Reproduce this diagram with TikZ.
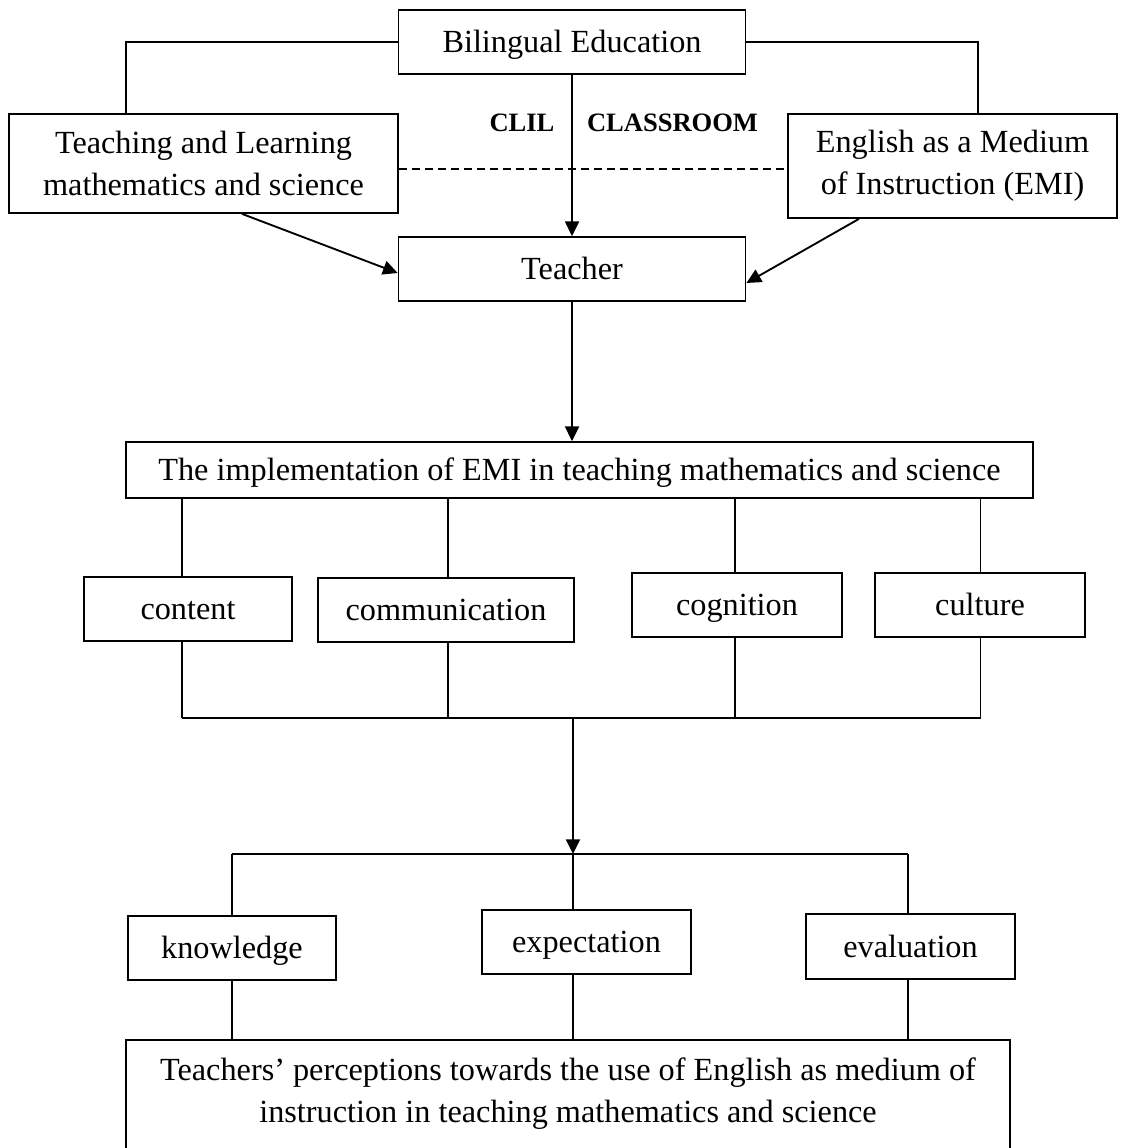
\documentclass[tikz,border=0pt]{standalone}
\usepackage{fontspec}
\setmainfont{Liberation Serif}
\usetikzlibrary{arrows.meta}
\newdimen\pxu \pxu=0.75pt
\newcommand\mainsz{\fontsize{24.2}{31.5}\selectfont}
\newcommand\lblsz{\fontsize{19.9}{24}\selectfont\bfseries}
\tikzset{
  box/.style={draw, line width=1.3pt, inner sep=0pt, font=\mainsz, align=center},
  one/.style={text height=22pt, text depth=6pt},
  conn/.style={line width=0.9pt},
  dashconn/.style={line width=1pt, dash pattern=on 6pt off 3.75pt},
  arr/.style={line width=1.4pt, -{Triangle[length=11pt,width=10.5pt]}},
  lbl/.style={font=\lblsz, inner sep=0pt},
}
\begin{document}
\begin{tikzpicture}[x=0.75pt,y=-0.75pt]
\useasboundingbox (0,0) rectangle (1120,1148);
\fill[white] (0,0) rectangle (1120,1148);
\clip (0,0) rectangle (1120,1148);

% nodes
\node[box, one, minimum width=347*\pxu, minimum height=64*\pxu] (bil) at (572,42) {Bilingual Education};
\node[box, minimum width=389*\pxu, minimum height=99*\pxu] (tl) at (203.5,163.5) {Teaching and Learning\\mathematics and science};
\node[box, minimum width=329*\pxu, minimum height=104*\pxu] (emi) at (952.5,166) {English as a Medium\\of Instruction (EMI)};
\node[box, one, minimum width=347*\pxu, minimum height=64*\pxu] (teacher) at (572,269) {Teacher};
\node[box, one, minimum width=907*\pxu, minimum height=56*\pxu] (impl) at (579.5,470) {The implementation of EMI in teaching mathematics and science};

\node[box, one, minimum width=208*\pxu, minimum height=64*\pxu] (content) at (188,609) {content};
\node[box, one, minimum width=256*\pxu, minimum height=64*\pxu] (comm) at (446,610) {communication};
\node[box, one, minimum width=210*\pxu, minimum height=64*\pxu] (cog) at (737,605) {cognition};
\node[box, one, minimum width=210*\pxu, minimum height=64*\pxu] (cult) at (980,605) {culture};

\node[box, one, minimum width=208*\pxu, minimum height=64*\pxu] (know) at (232,948) {knowledge};
\node[box, one, minimum width=209*\pxu, minimum height=64*\pxu] (expe) at (586.5,942) {expectation};
\node[box, one, minimum width=209*\pxu, minimum height=65*\pxu] (eval) at (910.5,946.5) {evaluation};

\node[draw, line width=1.3pt, inner sep=0pt, minimum width=884*\pxu, minimum height=140*\pxu, anchor=north] (persp) at (568,1039) {};
\node[font=\mainsz, align=center, inner sep=0pt] (persptext) at (568,1094) {Teachers’ perceptions towards the use of English as medium of\\instruction in teaching mathematics and science};

\node[lbl] (clil) at (522,123) {CLIL};
\node[lbl] (classroom) at (672.5,123) {CLASSROOM};

% helper coordinates
\coordinate (xl) at (126,0);
\coordinate (xr) at (978,0);
\coordinate (yd) at (0,169);
\coordinate (xa) at (242,0);
\coordinate (xb) at (859,0);
\coordinate (xm) at (573,0);
\coordinate (xc1) at (182,0);
\coordinate (xc2) at (448,0);
\coordinate (xc3) at (735,0);
\coordinate (xc4) at (980.5,0);
\coordinate (xk) at (232,0);
\coordinate (xe) at (908,0);
\coordinate (busa) at (0,718);
\coordinate (busb) at (0,854);

% top connectors
\draw[conn] (bil.west) -| (tl.north -| xl);
\draw[conn] (bil.east) -| (emi.north -| xr);
\draw[dashconn] (tl.east |- yd) -- (emi.west |- yd);
\draw[arr] (bil.south) -- (teacher.north);
\draw[arr] (tl.south -| xa) -- ([yshift=-3pt]teacher.west);
\draw[arr] (emi.south -| xb) -- ([yshift=-10.5pt]teacher.east);
\draw[arr] (teacher.south) -- (impl.north -| teacher.south);

% implementation branches
\draw[conn] (impl.south -| xc1) -- (content.north -| xc1);
\draw[conn] (impl.south -| xc2) -- (comm.north -| xc2);
\draw[conn] (impl.south -| xc3) -- (cog.north -| xc3);
\draw[conn] (impl.south -| xc4) -- (cult.north -| xc4);
\draw[conn] (content.south -| xc1) -- (busa -| xc1);
\draw[conn] (comm.south -| xc2) -- (busa -| xc2);
\draw[conn] (cog.south -| xc3) -- (busa -| xc3);
\draw[conn] (cult.south -| xc4) -- (busa -| xc4);
\draw[conn] (busa -| xc1) -- (busa -| xc4);

\draw[arr] (busa -| xm) -- (busb -| xm);

% lower branches
\draw[conn] (busb -| xk) -- (busb -| xe);
\draw[conn] (busb -| xk) -- (know.north -| xk);
\draw[conn] (busb -| xm) -- (expe.north -| xm);
\draw[conn] (busb -| xe) -- (eval.north -| xe);
\draw[conn] (know.south -| xk) -- (persp.north -| xk);
\draw[conn] (expe.south -| xm) -- (persp.north -| xm);
\draw[conn] (eval.south -| xe) -- (persp.north -| xe);
\end{tikzpicture}
\end{document}
